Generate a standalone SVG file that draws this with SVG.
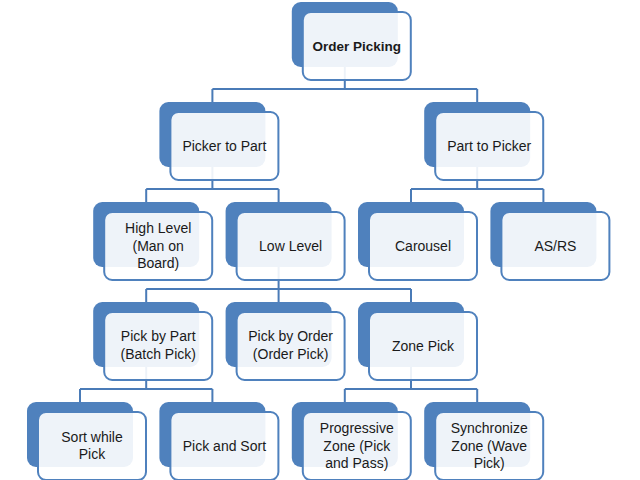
<svg xmlns="http://www.w3.org/2000/svg" width="640" height="480" viewBox="0 0 640 480">
<style>
.back{fill:#4f81bd;}
.front{fill:#ffffff;fill-opacity:0.9;stroke:#4f81bd;stroke-width:2;}
.t{font-family:"Liberation Sans",Arial,sans-serif;font-size:14px;fill:#1a1a1a;text-anchor:middle;}
.b{font-weight:bold;font-size:13.5px;}
.conn{fill:none;stroke:#4a7bb7;stroke-width:2;}
</style>
<rect width="640" height="480" fill="#ffffff"/>
<g id="connectors" class="conn">
<path d="M344.8 67 V89 M212.4 89 H477.2 M212.4 89 V102 M477.2 89 V102"/>
<path d="M212.4 167 V189 M146.2 189 H278.6 M146.2 189 V202 M278.6 189 V202"/>
<path d="M477.2 167 V189 M411 189 H543.4 M411 189 V202 M543.4 189 V202"/>
<path d="M278.6 267 V289 M146.2 289 H411 M146.2 289 V302 M278.6 289 V302 M411 289 V302"/>
<path d="M146.2 367 V389 M80 389 H212.4 M80 389 V402 M212.4 389 V402"/>
<path d="M411 367 V389 M344.8 389 H477.2 M344.8 389 V402 M477.2 389 V402"/>
</g>
<g id="n-order-picking" transform="translate(291.8,2)"><rect class="back" width="106" height="65" rx="9"/><rect class="front" x="11" y="10" width="108" height="68" rx="8"/><text class="t b" x="65" y="49">Order Picking</text></g>
<g id="n-picker-to-part" transform="translate(159.4,102)"><rect class="back" width="106" height="65" rx="9"/><rect class="front" x="11" y="10" width="108" height="68" rx="8"/><text class="t" x="65" y="49">Picker to Part</text></g>
<g id="n-part-to-picker" transform="translate(424.2,102)"><rect class="back" width="106" height="65" rx="9"/><rect class="front" x="11" y="10" width="108" height="68" rx="8"/><text class="t" x="65" y="49">Part to Picker</text></g>
<g id="n-high-level" transform="translate(93.2,202)"><rect class="back" width="106" height="65" rx="9"/><rect class="front" x="11" y="10" width="108" height="68" rx="8"/><text class="t" x="65" y="31">High Level</text><text class="t" x="65" y="49">(Man on</text><text class="t" x="65" y="66">Board)</text></g>
<g id="n-low-level" transform="translate(225.6,202)"><rect class="back" width="106" height="65" rx="9"/><rect class="front" x="11" y="10" width="108" height="68" rx="8"/><text class="t" x="65" y="49">Low Level</text></g>
<g id="n-carousel" transform="translate(358,202)"><rect class="back" width="106" height="65" rx="9"/><rect class="front" x="11" y="10" width="108" height="68" rx="8"/><text class="t" x="65" y="49">Carousel</text></g>
<g id="n-asrs" transform="translate(490.4,202)"><rect class="back" width="106" height="65" rx="9"/><rect class="front" x="11" y="10" width="108" height="68" rx="8"/><text class="t" x="65" y="49">AS/RS</text></g>
<g id="n-pick-by-part" transform="translate(93.2,302)"><rect class="back" width="106" height="65" rx="9"/><rect class="front" x="11" y="10" width="108" height="68" rx="8"/><text class="t" x="65" y="39">Pick by Part</text><text class="t" x="65" y="57">(Batch Pick)</text></g>
<g id="n-pick-by-order" transform="translate(225.6,302)"><rect class="back" width="106" height="65" rx="9"/><rect class="front" x="11" y="10" width="108" height="68" rx="8"/><text class="t" x="65" y="39">Pick by Order</text><text class="t" x="65" y="57">(Order Pick)</text></g>
<g id="n-zone-pick" transform="translate(358,302)"><rect class="back" width="106" height="65" rx="9"/><rect class="front" x="11" y="10" width="108" height="68" rx="8"/><text class="t" x="65" y="49">Zone Pick</text></g>
<g id="n-sort-while-pick" transform="translate(27,402)"><rect class="back" width="106" height="65" rx="9"/><rect class="front" x="11" y="10" width="108" height="68" rx="8"/><text class="t" x="65" y="40">Sort while</text><text class="t" x="65" y="57">Pick</text></g>
<g id="n-pick-and-sort" transform="translate(159.4,402)"><rect class="back" width="106" height="65" rx="9"/><rect class="front" x="11" y="10" width="108" height="68" rx="8"/><text class="t" x="65" y="49">Pick and Sort</text></g>
<g id="n-progressive-zone" transform="translate(291.8,402)"><rect class="back" width="106" height="65" rx="9"/><rect class="front" x="11" y="10" width="108" height="68" rx="8"/><text class="t" x="65" y="31">Progressive</text><text class="t" x="65" y="49">Zone (Pick</text><text class="t" x="65" y="66">and Pass)</text></g>
<g id="n-synchronize-zone" transform="translate(424.2,402)"><rect class="back" width="106" height="65" rx="9"/><rect class="front" x="11" y="10" width="108" height="68" rx="8"/><text class="t" x="65" y="31">Synchronize</text><text class="t" x="65" y="49">Zone (Wave</text><text class="t" x="65" y="66">Pick)</text></g>
</svg>
